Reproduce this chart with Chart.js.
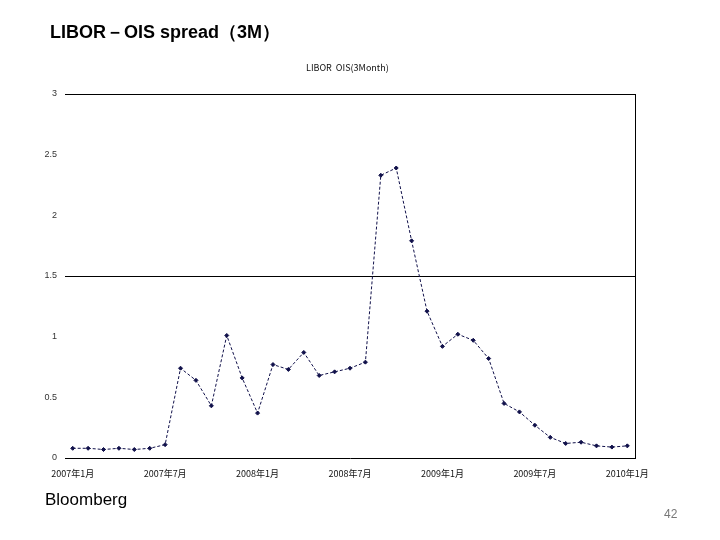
<!DOCTYPE html>
<html>
<head>
<meta charset="utf-8">
<script src="https://cdn.jsdelivr.net/npm/chart.js@4"></script>
<style>
  body { margin: 0; background: #fff; }
  #wrap { position: relative; width: 720px; height: 540px; overflow: hidden; }
  #chart { position: absolute; left: 0; top: 0; }
  .txt { position: absolute; white-space: nowrap; font-family: "Liberation Sans", Arial, sans-serif; }
  #title { left: 50px; top: 20px; font-size: 18px; font-weight: bold; color: #000; }
  #subtitle { left: 306px; top: 61px; font-size: 9px; color: #111; font-family: "Noto Sans CJK JP", sans-serif; }
  #source { left: 45px; top: 490px; font-size: 17px; color: #000; }
  #page { left: 664px; top: 507px; font-size: 12px; color: #777; }
</style>
</head>
<body>
<div id="wrap">
  <canvas id="chart" width="720" height="540"></canvas>
  <div class="txt" id="title">LIBOR－OIS spread（3M）</div>
  <div class="txt" id="subtitle">LIBOR&nbsp;&nbsp;OIS(3Month)</div>
  <div class="txt" id="source">Bloomberg</div>
  <div class="txt" id="page">42</div>
</div>
<script>
const months = [
  '2007年1月','2007年2月','2007年3月','2007年4月','2007年5月','2007年6月',
  '2007年7月','2007年8月','2007年9月','2007年10月','2007年11月','2007年12月',
  '2008年1月','2008年2月','2008年3月','2008年4月','2008年5月','2008年6月',
  '2008年7月','2008年8月','2008年9月','2008年10月','2008年11月','2008年12月',
  '2009年1月','2009年2月','2009年3月','2009年4月','2009年5月','2009年6月',
  '2009年7月','2009年8月','2009年9月','2009年10月','2009年11月','2009年12月',
  '2010年1月'
];
const spread = [
  0.08, 0.08, 0.07, 0.08, 0.07, 0.08,
  0.11, 0.74, 0.64, 0.43, 1.01, 0.66,
  0.37, 0.77, 0.73, 0.87, 0.68, 0.71,
  0.74, 0.79, 2.33, 2.39, 1.79, 1.21,
  0.92, 1.02, 0.97, 0.82, 0.45, 0.38,
  0.27, 0.17, 0.12, 0.13, 0.10, 0.09,
  0.10
];
const labelEvery = 6;
const gridValues = [1.5, 3];

const rightBorder = {
  id: 'rightBorder',
  afterDraw(chart) {
    const { ctx, chartArea } = chart;
    ctx.save();
    ctx.strokeStyle = '#000';
    ctx.lineWidth = 1;
    ctx.beginPath();
    ctx.moveTo(Math.round(chartArea.right) + 0.5, chartArea.top);
    ctx.lineTo(Math.round(chartArea.right) + 0.5, chartArea.bottom);
    ctx.stroke();
    ctx.restore();
  }
};

new Chart(document.getElementById('chart'), {
  type: 'line',
  data: {
    labels: months,
    datasets: [{
      data: spread,
      borderColor: '#10104a',
      borderWidth: 1,
      borderDash: [3, 2],
      pointBackgroundColor: '#10104a',
      pointBorderColor: '#10104a',
      pointRadius: 2,
      pointStyle: 'rectRot',
      tension: 0
    }]
  },
  options: {
    responsive: false,
    animation: false,
    layout: { padding: { left: 0, top: 94, right: 85, bottom: 0 } },
    plugins: { legend: { display: false }, tooltip: { enabled: false } },
    scales: {
      x: {
        offset: true,
        afterFit: s => { s.height = 82; },
        grid: { display: false },
        border: { color: '#000', width: 1 },
        ticks: {
          autoSkip: false,
          maxRotation: 0,
          padding: 2,
          color: '#111',
          font: { family: '"Noto Sans CJK JP", sans-serif', size: 9 },
          callback: (v, i) => (i % labelEvery === 0 ? months[i] : '')
        }
      },
      y: {
        min: 0,
        max: 3,
        afterFit: s => { s.width = 65; },
        border: { display: false },
        grid: {
          drawTicks: false,
          color: c => (gridValues.includes(c.tick.value) ? '#000' : 'rgba(0,0,0,0)'),
          lineWidth: 1
        },
        ticks: {
          stepSize: 0.5,
          padding: 8,
          color: '#333',
          font: { family: '"Liberation Sans", Arial, sans-serif', size: 9 },
          callback: v => String(v)
        }
      }
    }
  },
  plugins: [rightBorder]
});
</script>
</body>
</html>
